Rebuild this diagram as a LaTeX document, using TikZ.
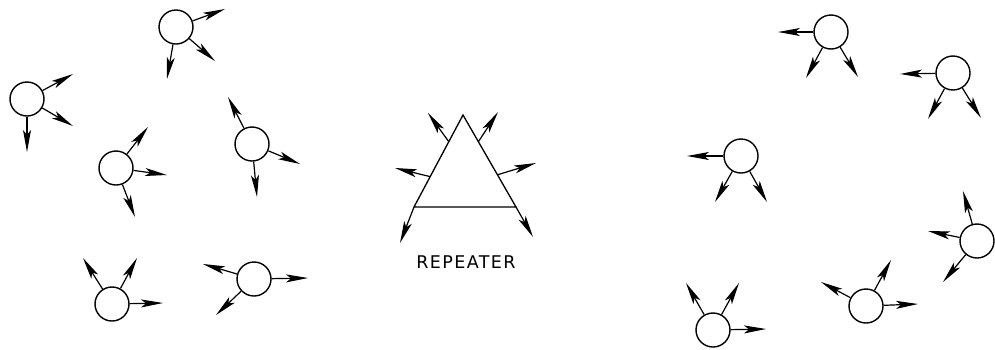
\documentclass[tikz,border=0pt]{standalone}
\usepackage{fontspec}
\usepackage{tikz}
\usetikzlibrary{arrows.meta,calc}
\newfontfamily\repfont[LetterSpace=8]{DejaVu Sans}

\begin{document}
\begin{tikzpicture}[x=1pt,y=-1pt,
  stn/.style={circle,draw,line width=1.4pt,minimum size=34pt,inner sep=0pt},
  sig/.style={-{Stealth[length=22pt,width=8pt,inset=5pt]},line width=1.2pt}]
\useasboundingbox (0,0) rectangle (995,349);
% stations: centre, then the three arrow ends
\foreach \n/\sx/\sy/\ax/\ay/\bx/\by/\cx/\cy in {
  a/27/99/73/74/73/126/27/152,
  b/176/27/225/9/215/61/167/79,
  c/116/168/148/127/167/175/135/217,
  d/252/144/228/97/300/164/257/197,
  e/112/304/83/258/137/258/163/303,
  f/254/279/203/264/216/315/308/278,
  g/831/32/778/32/806/78/858/77,
  h/953/73/900/74/928/119/981/118,
  i/741/156/687/156/715/202/767/202,
  j/713/330/686/283/739/283/766/329,
  k/866/306/821/282/891/260/918/304,
  l/977/241/963/191/928/231/943/282}{
  \node[stn] (\n) at (\sx,\sy) {};
  \coordinate (\n-1) at (\ax,\ay);
  \coordinate (\n-2) at (\bx,\by);
  \coordinate (\n-3) at (\cx,\cy);
  \draw[sig] (\n) -- (\n-1);
  \draw[sig] (\n) -- (\n-2);
  \draw[sig] (\n) -- (\n-3);
}
% repeater
\coordinate (top) at (463,115);
\coordinate (bl) at (414,207);
\coordinate (br) at (516,207);
\draw[line width=1.3pt] (bl) -- (top) -- (br) -- cycle;
\coordinate (bl1) at (400,243);
\coordinate (br1) at (533,237);
\coordinate (ul) at ($(top)!0.29!(bl)$);
\coordinate (ml) at ($(top)!0.67!(bl)$);
\coordinate (ur) at ($(top)!0.29!(br)$);
\coordinate (mr) at ($(top)!0.65!(br)$);
\coordinate (ul1) at (428,113);
\coordinate (ml1) at (395,168);
\coordinate (ur1) at (498,112);
\coordinate (mr1) at (536,163);
\draw[sig] (bl) -- (bl1);
\draw[sig] (br) -- (br1);
\draw[sig] (ul) -- (ul1);
\draw[sig] (ml) -- (ml1);
\draw[sig] (ur) -- (ur1);
\draw[sig] (mr) -- (mr1);
\node[font=\repfont\fontsize{17.5}{17.5}\selectfont] (rep) at (466,262) {REPEATER};
\end{tikzpicture}
\end{document}
